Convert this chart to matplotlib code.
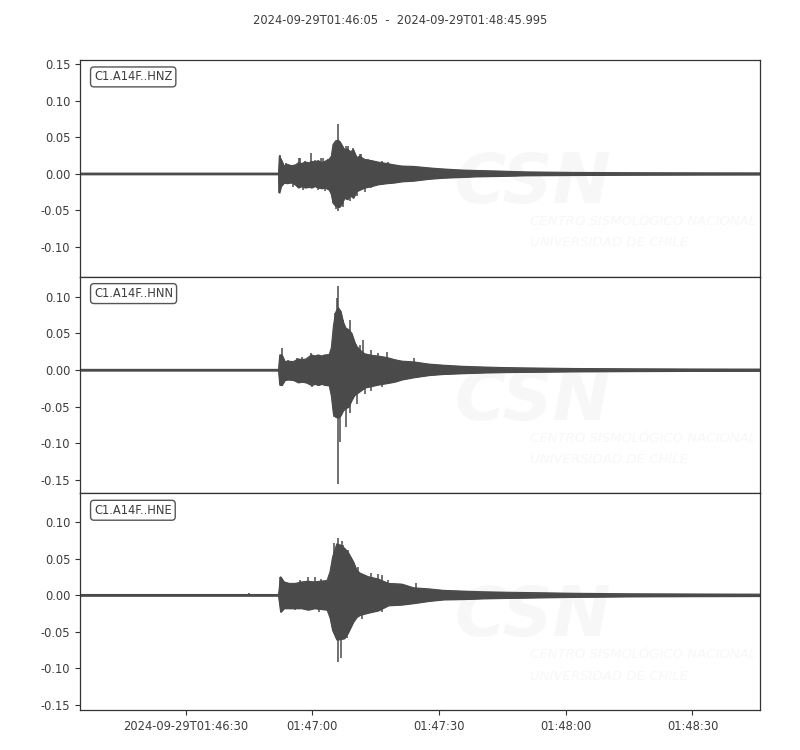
import numpy as np
import matplotlib
matplotlib.use("Agg")
import matplotlib.pyplot as plt
import matplotlib.dates as mdates
from matplotlib.ticker import MultipleLocator, FuncFormatter

plt.rcParams['font.family'] = ['DejaVu Sans']
plt.rcParams['axes.unicode_minus'] = False

# ---------------- data ----------------
start_time = '2024-09-29T01:46:05'
end_label = '2024-09-29T01:48:45.995'
duration = 160.995
channels = ['C1.A14F..HNZ', 'C1.A14F..HNN', 'C1.A14F..HNE']

# HNZ envelope (seconds from start, upper, lower)
z_t = [0, 47.0, 47.2, 47.6, 48.3, 49.0, 50.0, 51.0, 51.7, 52.5,
       53.3, 54.2, 54.8, 55.6, 56.4, 57.2, 58.0, 59.0, 59.5, 59.9,
       60.5, 61.1, 61.5, 61.9, 62.6, 63.3, 64.0, 64.7, 65.5, 66.2,
       67.4, 69.0, 70.5, 72.6, 74.5, 76.2, 79.0, 82.6, 86.0, 90.5,
       93.6, 100.0, 105.5, 116.7, 130.0, 145.0, 160.995]
z_hi = [.0008, .0008, .024, .0196, .0105, .013, .011, .012, .015, .014,
        .016, .015, .017, .016, .018, .015, .017, .020, .024, .040,
        .045, .046, .044, .040, .033, .034, .030, .033, .022, .024,
        .0195, .018, .016, .014, .012, .0105, .010, .008, .0065, .005,
        .0045, .0035, .0025, .0018, .0014, .0012, .0011]
z_lo = [-.0008, -.0008, -.026, -.017, -.0123, -.013, -.012, -.015, -.019, -.017,
        -.019, -.018, -.019, -.017, -.019, -.020, -.019, -.022, -.028, -.040,
        -.044, -.046, -.045, -.042, -.033, -.035, -.030, -.033, -.024, -.022,
        -.019, -.017, -.0146, -.013, -.012, -.0105, -.0095, -.007, -.0055, -.0045,
        -.0037, -.003, -.0022, -.0018, -.0014, -.0012, -.0011]
z_spike_t = [47.3, 47.6, 48.8, 51.9, 52.2, 53.2, 54.7, 55.6, 57.1, 57.5, 57.9, 58.7,
             61.1, 62.9, 63.5, 64.7, 66.3, 66.5, 68.3, 69.8, 71.4, 73.0,
             47.2, 50.4, 52.8, 56.3, 57.9, 59.9, 60.7, 61.2, 62.3, 63.9, 65.5, 67.5, 69.0]
z_spike_v = [.026, .020, .015, .022, .022, .018, .029, .019, .022, .022, .018, .020,
             .068, .038, .038, .035, .027, .027, .020, .018, .017, .016,
             -.026, -.018, -.022, -.022, -.023, -.040, -.048, -.051, -.045, -.038, -.030, -.025, -.020]

# HNN envelope
n_t = [0, 47.0, 47.3, 47.8, 48.5, 49.3, 50.5, 51.7, 52.5, 53.5,
       54.8, 55.6, 56.4, 57.2, 58.0, 59.0, 59.5, 60.0, 60.5, 61.1,
       61.7, 62.3, 62.9, 63.6, 64.3, 65.0, 65.5, 66.5, 67.4, 69.0,
       70.5, 72.6, 74.5, 76.2, 79.0, 82.6, 86.0, 90.5, 95.6, 100.0,
       105.5, 116.7, 130.0, 145.0, 160.995]
n_hi = [.0008, .0008, .0205, .0205, .0114, .012, .0114, .015, .014, .015,
        .0205, .019, .0205, .019, .0205, .021, .030, .060, .078, .085,
        .080, .065, .057, .055, .050, .038, .032, .026, .022, .020,
        .019, .017, .014, .012, .011, .008, .0065, .005, .004, .0033,
        .0028, .002, .0016, .0013, .0012]
n_lo = [-.0008, -.0008, -.0205, -.0205, -.0137, -.013, -.0137, -.017, -.016, -.017,
        -.0205, -.019, -.0205, -.019, -.0205, -.021, -.035, -.060, -.064, -.065,
        -.062, -.055, -.052, -.050, -.041, -.034, -.032, -.028, -.024, -.022,
        -.020, -.018, -.016, -.013, -.010, -.007, -.0055, -.0045, -.0035, -.003,
        -.0026, -.002, -.0016, -.0013, -.0012]
n_spike_t = [47.9, 49.3, 51.3, 52.5, 54.8, 56.3, 57.9, 60.4, 60.9, 61.1, 62.3, 63.9,
             66.3, 67.1, 69.0, 70.6, 72.6, 74.6, 79.0,
             47.6, 52.5, 55.0, 57.9, 60.2, 61.1, 61.6, 62.9, 64.0, 65.5, 67.5, 69.0, 71.4]
n_spike_v = [.030, .014, .016, .018, .023, .0205, .0205, .077, .098, .115, .068, .068,
             .034, .041, .027, .023, .024, .014, .016,
             -.0205, -.018, -.023, -.0205, -.064, -.155, -.098, -.077, -.059, -.046, -.033, -.028, -.023]

# HNE envelope
e_t = [0, 47.0, 47.5, 48.3, 49.5, 51.0, 52.5, 54.0, 55.5, 57.0,
       58.5, 59.2, 59.8, 60.8, 61.8, 62.6, 63.4, 64.7, 65.5, 66.3,
       68.3, 70.6, 73.0, 76.2, 79.0, 82.6, 86.0, 90.5, 95.6, 100.0,
       105.5, 116.7, 130.0, 145.0, 160.995]
e_hi = [.0008, .0008, .025, .018, .016, .016, .018, .019, .018, .019,
        .020, .032, .052, .070, .068, .064, .059, .0455, .034, .030,
        .025, .022, .016, .015, .010, .0085, .0065, .0055, .0045, .004,
        .0035, .0025, .0018, .0015, .0013]
e_lo = [-.0008, -.0008, -.023, -.018, -.018, -.018, -.018, -.020, -.018, -.019,
        -.020, -.031, -.048, -.061, -.060, -.059, -.052, -.0365, -.030, -.027,
        -.024, -.021, -.014, -.013, -.011, -.008, -.006, -.0055, -.0045, -.004,
        -.0035, -.0025, -.0018, -.0015, -.0013]
e_spike_t = [40.0, 47.4, 47.6, 49.3, 52.2, 54.0, 55.6, 57.1, 60.2, 61.0, 62.1, 62.3,
             63.5, 65.9, 69.0, 70.6, 71.5, 73.0, 79.6,
             47.6, 50.8, 54.0, 56.7, 59.9, 61.1, 61.7, 63.1, 64.7, 66.7, 69.0, 71.4]
e_spike_v = [.003, .025, .025, .016, .020, .025, .025, .0225, .071, .0775, .074, .069,
             .062, .039, .030, .029, .027, .020, .016,
             -.023, -.021, -.021, -.023, -.048, -.091, -.086, -.059, -.036, -.032, -.0235, -.023]

y_limits = [(-0.141, 0.1557), (-0.168, 0.127), (-0.157, 0.139)]

# ---------------- plotting ----------------
t0 = np.datetime64(start_time)


def to_time(sec):
    return t0 + (np.asarray(sec) * 1000).astype('timedelta64[ms]')


trace_color = '#4a4a4a'
text_color = '#3d3d3d'
wm_color = '#f7f7f7'

fig = plt.figure(figsize=(8, 7.5), dpi=100)
left, width = 0.1, 0.85
bottom0, h = 0.0533, 0.28889
axes = []
for i in range(3):
    b = bottom0 + (2 - i) * h
    ax = fig.add_axes([left, b, width, h])
    axes.append(ax)

traces = [
    (z_t, z_hi, z_lo, z_spike_t, z_spike_v),
    (n_t, n_hi, n_lo, n_spike_t, n_spike_v),
    (e_t, e_hi, e_lo, e_spike_t, e_spike_v),
]

for i, (ax, tr) in enumerate(zip(axes, traces)):
    tt, hi, lo, st, sv = tr
    times = to_time(tt)
    # watermark
    ax.text(0.551, 0.34, 'CSN', transform=ax.transAxes, fontsize=50,
            fontweight='bold', fontstyle='italic', color=wm_color,
            ha='left', va='baseline', zorder=0)
    ax.text(0.662, 0.254, 'CENTRO SISMOLÓGICO NACIONAL', transform=ax.transAxes,
            fontsize=9.5, fontstyle='italic', color=wm_color, ha='left',
            va='center', zorder=0)
    ax.text(0.662, 0.157, 'UNIVERSIDAD DE CHILE', transform=ax.transAxes,
            fontsize=9.5, fontstyle='italic', color=wm_color, ha='left',
            va='center', zorder=0)

    ax.fill_between(times, lo, hi, color=trace_color, lw=0.8, zorder=2)
    ax.plot(times, hi, color=trace_color, lw=0.8, zorder=2)
    ax.plot(times, lo, color=trace_color, lw=0.8, zorder=2)
    ax.vlines(to_time(st), 0, sv, color=trace_color, lw=1.1, zorder=2)

    ax.set_xlim(to_time(0), to_time(duration))
    ax.set_ylim(*y_limits[i])
    ax.yaxis.set_major_locator(MultipleLocator(0.05))
    ax.yaxis.set_major_formatter(FuncFormatter(lambda v, p: f'{v:.2f}'))
    ax.tick_params(axis='both', direction='out', length=3.5, width=0.8,
                   colors='#333333', labelcolor=text_color, labelsize=8.3)
    for sp in ax.spines.values():
        sp.set_color('#333333')
        sp.set_linewidth(0.9)

    ax.text(0.0206, 0.922, channels[i], transform=ax.transAxes, fontsize=8.3,
            color=text_color, ha='left', va='center',
            bbox=dict(boxstyle='round,pad=0.3', fc='white', ec='#555555', lw=1.0),
            zorder=5)

    ax.xaxis.set_major_locator(mdates.SecondLocator(bysecond=[0, 30]))
    if i < 2:
        ax.tick_params(axis='x', bottom=False, labelbottom=False)


def fmt(x, pos):
    d = mdates.num2date(x)
    if pos == 0:
        return d.strftime('%Y-%m-%dT%H:%M:%S')
    return d.strftime('%H:%M:%S')


axes[2].xaxis.set_major_formatter(FuncFormatter(fmt))
axes[2].tick_params(axis='x', pad=4)

fig.text(0.5, 0.973, f'{start_time}  -  {end_label}', ha='center', va='center',
         fontsize=8.3, color=text_color)

fig.savefig('out.png', dpi=100)
